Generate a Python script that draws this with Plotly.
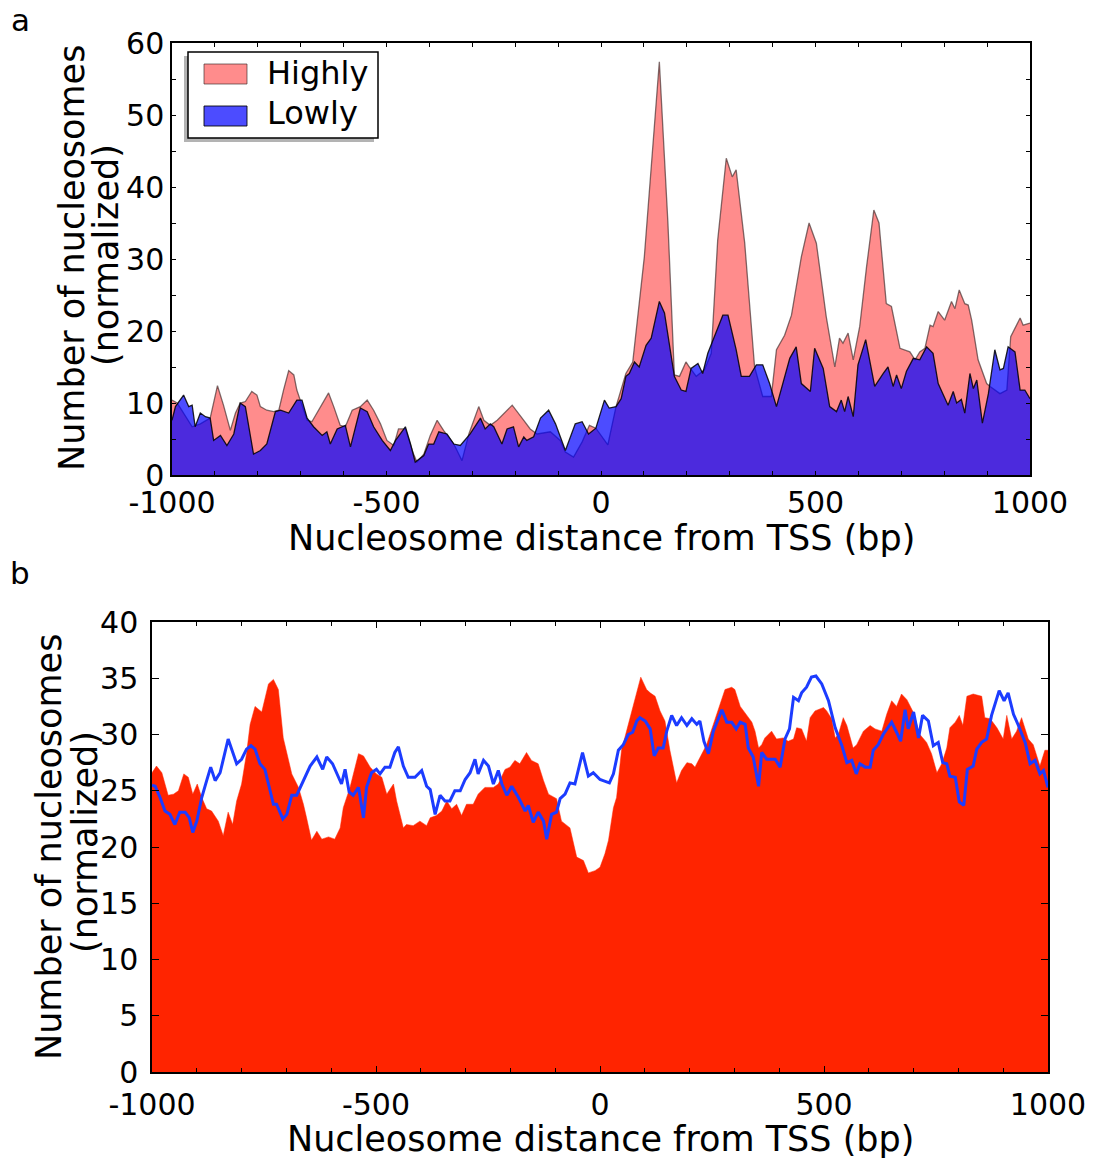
import plotly.graph_objects as go

# ---------------- Panel a data ----------------
highly_x = [-1000, -988, -973, -953, -934, -911, -894, -880, -864, -852, -841, -829, -814, -802, -794,
            -779, -763, -751, -740, -728, -716, -709, -701, -685, -674, -662, -635, -623, -608, -596,
            -580, -561, -545, -530, -514, -499, -483, -472, -456, -437, -429, -413, -398, -382, -367,
            -343, -324, -308, -285, -273, -258, -242, -207, -180, -165, -149, -118, -95, -83, -64,
            -44, -27, -12, 16, 35, 58, 74, 101, 136, 156, 171, 183, 198, 206, 222, 241, 257, 272,
            292, 306, 315, 335, 358, 377, 397, 409, 428, 444, 467, 485, 502, 525, 545, 556, 564,
            576, 588, 603, 619, 636, 648, 665, 677, 697, 720, 732, 743, 755, 767, 774, 786, 801,
            817, 825, 835, 848, 856, 864, 879, 899, 907, 930, 946, 955, 977, 984, 1000]
highly_y = [10.4, 10.0, 8.6, 6.7, 7.1, 7.9, 12.4, 9.7, 6.2, 8.6, 10.0, 10.2, 11.6, 11.1, 9.5,
            9.0, 8.8, 9.0, 11.8, 14.5, 13.9, 11.8, 10.4, 7.6, 7.4, 8.6, 11.4, 9.5, 6.9, 6.7,
            9.0, 9.5, 10.4, 9.0, 7.1, 4.8, 4.1, 6.4, 6.4, 2.9, 1.8, 2.9, 5.5, 7.6, 6.2,
            4.3, 2.0, 5.7, 9.5, 7.6, 6.9, 7.6, 9.7, 7.6, 6.4, 5.7, 6.0, 4.8, 3.2, 2.5,
            4.6, 6.9, 6.5, 4.2, 9.5, 14.1, 15.7, 30.3, 57.4, 35.0, 13.9, 13.7, 15.7, 15.0, 13.7, 14.6, 16.9, 32.6,
            44.0, 41.4, 42.4, 32.2, 15.0, 10.9, 10.9, 17.4, 19.4, 22.2, 30.3, 35.0, 32.2, 22.0, 15.0, 19.0, 18.3,
            19.7, 16.0, 20.6, 28.9, 36.8, 35.0, 23.8, 23.4, 17.6, 17.1, 16.0, 17.1, 17.6, 20.8, 20.6, 22.7, 21.5,
            24.1, 23.1, 25.7, 23.8, 23.6, 21.5, 16.0, 12.7, 12.3, 11.3, 11.8, 19.2, 21.8, 20.8, 21.1]

lowly_x = [-1000, -992, -973, -961, -953, -946, -934, -922, -911, -903, -887, -872, -856, -841, -829,
           -810, -794, -779, -759, -747, -728, -709, -697, -685, -670, -650, -639, -631, -615, -596,
           -584, -561, -545, -530, -510, -491, -479, -456, -444, -433, -413, -402, -390, -378, -359,
           -343, -328, -305, -281, -270, -258, -250, -231, -219, -204, -192, -180, -173, -157, -141,
           -122, -106, -83, -60, -44, -29, -12, 8, 19, 35, 47, 58, 66, 78, 89, 105, 117, 136, 148,
           171, 187, 198, 210, 226, 237, 249, 284, 296, 315, 327, 346, 362, 377, 393, 409, 428,
           440, 455, 467, 488, 498, 518, 533, 549, 560, 568, 576, 588, 599, 617, 638, 658, 669,
           681, 689, 700, 712, 728, 743, 759, 774, 786, 809, 821, 829, 840, 848, 860, 868, 876,
           889, 903, 918, 930, 938, 949, 965, 977, 988, 1000]
lowly_y = [7.6, 9.5, 11.1, 9.5, 9.7, 6.7, 8.6, 8.1, 7.9, 4.8, 5.5, 4.1, 5.7, 10.0, 9.5,
           2.9, 3.4, 4.3, 8.8, 9.0, 8.6, 10.4, 10.4, 7.9, 6.7, 5.5, 6.0, 4.3, 6.4, 6.9,
           3.9, 9.3, 8.8, 6.7, 4.8, 3.4, 4.8, 6.7, 4.3, 1.8, 2.7, 4.3, 4.3, 6.0, 5.7,
           4.3, 4.1, 5.7, 7.9, 6.4, 7.1, 6.7, 4.3, 6.4, 6.7, 3.9, 5.3, 4.8, 5.3, 7.9,
           9.0, 7.1, 3.4, 7.1, 7.4, 5.7, 6.5, 10.4, 9.3, 9.5, 10.6, 13.7, 14.1, 15.7, 15.0, 18.0, 19.0, 24.1, 22.5,
           13.7, 11.8, 11.6, 14.8, 15.5, 14.1, 16.9, 22.2, 22.2, 17.4, 13.7, 13.7, 15.3, 15.3, 12.7, 9.5, 13.7,
           16.2, 17.8, 12.7, 11.6, 17.6, 14.8, 9.5, 8.8, 10.4, 8.8, 10.9, 8.1, 15.3, 18.8, 12.3, 14.1, 15.0,
           12.3, 13.9, 12.0, 14.4, 16.2, 16.0, 17.8, 16.9, 12.7, 9.7, 11.6, 10.0, 10.5, 8.6, 14.1, 12.0, 13.2,
           7.2, 11.3, 17.4, 14.6, 14.8, 17.8, 17.1, 11.8, 11.8, 10.6]

# ---------------- Panel b data ----------------
red_x = [-1000, -990, -978, -964, -952, -941, -929, -919, -909, -899, -889, -878, -867, -852, -841,
         -830, -820, -811, -800, -789, -781, -770, -755, -740, -729, -718, -707, -688, -673, -662,
         -655, -644, -632, -621, -606, -592, -580, -573, -558, -539, -528, -513, -499, -487, -476,
         -461, -454, -439, -432, -417, -402, -387, -379, -365, -353, -342, -331, -320, -309, -298,
         -283, -272, -257, -238, -227, -212, -201, -190, -179, -164, -153, -138, -126, -115, -97,
         -86, -67, -52, -37, -26, -11, 0, 11, 19, 30, 37, 48, 71, 91, 104, 112, 123, 134, 145,
         156, 171, 182, 194, 205, 212, 223, 238, 253, 268, 279, 294, 301, 313, 324, 339, 346,
         354, 361, 368, 383, 394, 409, 420, 432, 439, 450, 461, 469, 480, 499, 506, 517, 525,
         532, 543, 551, 565, 573, 588, 603, 614, 629, 640, 651, 662, 673, 685, 699, 714, 729,
         740, 752, 763, 774, 781, 793, 802, 810, 819, 833, 852, 859, 871, 886, 900, 908, 919,
         930, 941, 956, 967, 982, 993, 1000]
red_y = [26.6, 27.2, 26.6, 24.6, 24.7, 25.0, 26.5, 26.2, 24.7, 25.6, 24.4, 23.4, 23.2, 22.3, 21.0,
         23.1, 22.0, 24.1, 25.6, 28.3, 30.9, 32.5, 32.0, 34.5, 34.9, 34.0, 29.7, 26.5, 25.3, 23.8,
         22.6, 20.6, 21.4, 20.7, 20.9, 20.7, 21.7, 23.5, 25.3, 28.3, 28.1, 27.1, 26.5, 26.2, 24.7,
         25.6, 24.1, 21.7, 22.0, 21.9, 22.3, 21.9, 22.6, 22.8, 23.2, 24.1, 23.4, 23.8, 22.8, 23.8,
         23.8, 24.7, 25.3, 25.3, 25.6, 26.9, 27.1, 27.7, 27.4, 28.4, 27.7, 27.4, 25.9, 24.7, 24.3,
         22.3, 21.7, 19.1, 18.8, 17.7, 17.9, 18.2, 19.4, 20.6, 23.5, 24.4, 28.6, 32.1, 35.1, 34.0, 33.7, 33.4, 32.1, 31.2,
         28.6, 25.7, 26.8, 27.5, 27.4, 27.1, 28.0, 29.1, 30.9, 32.7, 34.0, 34.2, 34.0, 32.5, 31.9, 31.1, 30.3,
         28.8, 29.1, 29.7, 30.3, 29.6, 29.7, 29.4, 29.6, 30.6, 30.5, 29.4, 31.5, 32.1, 32.4, 32.1, 31.4, 29.7,
         30.0, 31.5, 30.8, 28.8, 29.1, 30.3, 30.8, 30.5, 30.3, 31.8, 33.0, 32.5, 33.6, 33.1, 32.0, 30.0, 29.3,
         28.3, 26.6, 27.4, 28.8, 30.6, 31.1, 31.7, 30.8, 33.4, 33.6, 33.4, 31.5, 31.4, 30.6, 29.6, 31.7, 29.6,
         30.3, 31.5, 29.6, 29.1, 27.2, 28.6, 28.6]

blue_x = [-1000, -993, -982, -971, -960, -949, -938, -926, -917, -909, -900, -889, -878, -869, -859,
          -848, -830, -811, -800, -789, -779, -770, -759, -748, -740, -729, -722, -708, -699, -688,
          -677, -662, -647, -632, -619, -610, -597, -577, -569, -560, -551, -539, -528, -521, -510,
          -499, -491, -480, -469, -458, -450, -439, -428, -413, -398, -387, -379, -368, -357, -346,
          -335, -324, -312, -301, -290, -279, -272, -260, -249, -238, -227, -219, -208, -197, -182,
          -167, -160, -149, -138, -126, -119, -108, -97, -89, -78, -67, -56, -39, -26, -15, 0,
          7, 21, 30, 41, 52, 63, 73, 82, 89, 101, 112, 121, 130, 141, 149, 160, 171, 182, 194,
          205, 216, 223, 232, 242, 253, 272, 283, 294, 304, 313, 324, 331, 342, 354, 361, 372,
          391, 402, 413, 423, 432, 443, 450, 461, 472, 482, 495, 510, 525, 540, 551, 562, 572,
          580, 592, 603, 610, 621, 632, 651, 662, 671, 681, 688, 700, 711, 720, 733, 744, 755,
          765, 774, 781, 793, 802, 812, 820, 833, 841, 852, 863, 874, 891, 902, 911, 923, 934,
          949, 960, 971, 982, 990, 1000]
blue_y = [25.5, 25.4, 24.4, 23.2, 22.9, 22.0, 23.1, 23.1, 22.6, 21.3, 22.3, 24.4, 25.9, 27.1, 25.9,
          26.6, 29.6, 27.4, 27.8, 28.7, 29.0, 28.7, 27.4, 26.9, 25.6, 23.8, 23.8, 22.5, 22.9, 24.6,
          24.6, 25.9, 27.2, 28.0, 26.9, 28.0, 27.4, 25.6, 26.9, 24.9, 24.6, 25.3, 22.6, 25.3, 26.6,
          26.9, 26.5, 27.1, 27.1, 28.4, 28.9, 27.2, 26.2, 26.2, 26.8, 25.4, 25.1, 22.9, 24.6, 24.1,
          24.1, 25.0, 25.0, 26.0, 26.6, 27.8, 26.5, 27.7, 27.2, 25.6, 26.8, 25.6, 24.6, 25.4, 24.4,
          23.2, 23.7, 22.2, 23.1, 22.3, 20.7, 22.9, 23.1, 24.3, 24.7, 25.7, 25.6, 28.4, 26.3, 26.6, 26.0,
          25.9, 25.7, 26.5, 28.6, 29.1, 30.0, 30.2, 31.2, 31.5, 31.2, 30.5, 28.1, 28.8, 28.8, 30.3, 31.7, 30.8, 31.5, 30.8,
          31.4, 30.9, 31.2, 29.4, 28.3, 30.3, 32.2, 31.1, 31.1, 30.5, 31.1, 30.9, 28.8, 28.0, 25.4, 28.4, 27.8,
          27.8, 27.1, 29.6, 30.5, 33.3, 33.0, 33.7, 34.2, 35.1, 35.2, 34.5, 33.0, 30.6, 29.0, 27.5, 27.7, 26.5,
          27.4, 27.1, 27.1, 28.6, 29.1, 30.0, 31.1, 30.2, 29.4, 32.2, 30.5, 32.0, 29.7, 31.7, 31.2, 29.0, 29.3,
          27.5, 27.4, 26.3, 26.2, 24.0, 23.7, 26.9, 27.2, 28.7, 29.3, 29.6, 31.7, 33.9, 33.0, 33.7, 31.8, 30.8,
          29.3, 27.4, 27.7, 26.5, 26.8, 25.3]

x_tick_vals = [-1000, -500, 0, 500, 1000]
x_tick_text = ["-1000", "-500", "0", "500", "1000"]
legend_labels = ["Highly", "Lowly"]
x_title = "Nucleosome distance from TSS (bp)"
y_title_lines = ["Number of nucleosomes", "(normalized)"]

W, H = 1097, 1161
FONT = "DejaVu Sans"
TITLE_SIZE = 35


def px(x):
    return x / W


def py(y):
    return 1 - y / H


PINK = "rgba(255,0,0,0.45)"
BLUE = "rgba(0,0,255,0.70)"

fig = go.Figure()
fig.add_trace(go.Scatter(x=highly_x, y=highly_y, mode="lines", fill="tozeroy",
                         fillcolor=PINK, line=dict(color="rgba(60,40,40,0.65)", width=1.3),
                         name=legend_labels[0], xaxis="x", yaxis="y", showlegend=False))
fig.add_trace(go.Scatter(x=lowly_x, y=lowly_y, mode="lines", fill="tozeroy",
                         fillcolor=BLUE, line=dict(color="rgba(0,0,0,0.85)", width=1.3),
                         name=legend_labels[1], xaxis="x", yaxis="y", showlegend=False))
fig.add_trace(go.Scatter(x=red_x, y=red_y, mode="lines", fill="tozeroy",
                         fillcolor="#ff2400", line=dict(color="#ff2400", width=0.5),
                         xaxis="x2", yaxis="y2", showlegend=False))
fig.add_trace(go.Scatter(x=blue_x, y=blue_y, mode="lines",
                         line=dict(color="#1c3cff", width=3),
                         xaxis="x2", yaxis="y2", showlegend=False))

axis_common = dict(showline=True, linecolor="black", linewidth=1.5, mirror="allticks",
                   ticks="inside", tickcolor="black", showgrid=False, zeroline=False,
                   automargin=False,
                   tickfont=dict(family=FONT, size=30, color="black"))

fig.update_layout(
    width=W, height=H, margin=dict(l=0, r=0, t=0, b=0, autoexpand=False),
    paper_bgcolor="white", plot_bgcolor="white",
    xaxis=dict(domain=[px(172), px(1030)], range=[-1000, 1000], anchor="y",
               tickmode="array", tickvals=x_tick_vals, ticktext=x_tick_text, ticklen=4, tickwidth=1,
               minor=dict(dtick=100, tick0=0, ticks="inside", ticklen=4, tickcolor="black", tickwidth=1),
               **axis_common),
    yaxis=dict(domain=[py(475), py(43)], range=[0, 60], anchor="x",
               dtick=10, ticklen=4, tickwidth=1,
               minor=dict(dtick=5, ticks="inside", ticklen=4, tickcolor="black", tickwidth=1),
               **axis_common),
    xaxis2=dict(domain=[px(152), px(1048)], range=[-1000, 1000], anchor="y2",
                tickmode="array", tickvals=x_tick_vals, ticktext=x_tick_text, ticklen=6, tickwidth=1,
                ticklabelstandoff=5,
                minor=dict(dtick=100, tick0=0, ticks="inside", ticklen=4, tickcolor="black", tickwidth=1),
                **axis_common),
    yaxis2=dict(domain=[py(1072), py(622)], range=[0, 40], anchor="x2",
                dtick=5, ticklen=7, tickwidth=1, ticklabelstandoff=6, **axis_common),
)

ann = []


def text(t, x, y, size, xanchor="center", angle=0):
    ann.append(dict(text=t, x=px(x), y=py(y), xref="paper", yref="paper", showarrow=False,
                    textangle=angle, font=dict(family=FONT, size=size, color="black"),
                    xanchor=xanchor, yanchor="middle"))


# panel labels
text("a", 20, 20, 31)
text("b", 20, 573, 31)
# axis titles
text(x_title, 601, 538, TITLE_SIZE)
text(x_title, 600, 1139, TITLE_SIZE)
text(y_title_lines[0], 72, 258, TITLE_SIZE, angle=-90)
text(y_title_lines[1], 106, 255, TITLE_SIZE, angle=-90)
text(y_title_lines[0], 49, 847, TITLE_SIZE, angle=-90)
text(y_title_lines[1], 85, 842, TITLE_SIZE, angle=-90)
# legend text
text(legend_labels[0], 265, 73, 32, xanchor="left")
text(legend_labels[1], 265, 113, 32, xanchor="left")

shapes = []
# legend shadow + frame
shapes.append(dict(type="rect", xref="paper", yref="paper", x0=px(184), x1=px(374), y0=py(142), y1=py(56),
                   fillcolor="rgba(128,128,128,0.6)", line=dict(width=0), layer="above"))
shapes.append(dict(type="rect", xref="paper", yref="paper", x0=px(188), x1=px(378), y0=py(138), y1=py(52),
                   fillcolor="white", line=dict(color="black", width=1.5), layer="above"))
shapes.append(dict(type="rect", xref="paper", yref="paper", x0=px(204), x1=px(247), y0=py(84), y1=py(64),
                   fillcolor=PINK, line=dict(color="rgba(60,40,40,0.65)", width=1), layer="above"))
shapes.append(dict(type="rect", xref="paper", yref="paper", x0=px(204), x1=px(247), y0=py(126), y1=py(106),
                   fillcolor=BLUE, line=dict(color="rgba(0,0,0,0.85)", width=1), layer="above"))

fig.update_layout(annotations=ann, shapes=shapes)
fig.write_html("out.html", config={"displayModeBar": False},
               post_script="document.body.style.margin='0px';document.body.style.padding='0px';")
